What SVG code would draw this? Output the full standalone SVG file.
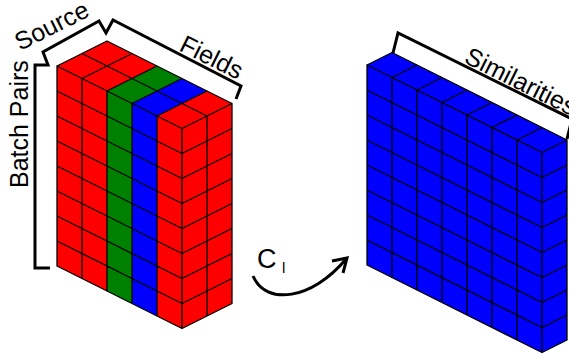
<svg xmlns="http://www.w3.org/2000/svg" width="569" height="356" viewBox="0 0 569 356">
<style>
.r{fill:#ff0000}.g{fill:#008000}.b{fill:#0000ff}
.grid{fill:none;stroke:#000;stroke-width:1.3;stroke-linejoin:round;stroke-linecap:round}
.br{fill:none;stroke:#000;stroke-width:3;stroke-linejoin:miter;stroke-linecap:butt}
.t{font-family:"Liberation Sans",Arial,sans-serif;font-size:25px;fill:#000}
.c{font-family:"Liberation Sans",Arial,sans-serif;fill:#000}
</style>
<rect width="569" height="356" fill="#fff"/>
<g id="source-tensor">
<polygon class="r" points="57,66 82,78.5 82,278.5 57,266"/>
<polygon class="r" points="82,78.5 107,91 107,291 82,278.5"/>
<polygon class="g" points="107,91 132,103.5 132,303.5 107,291"/>
<polygon class="b" points="132,103.5 157,116 157,316 132,303.5"/>
<polygon class="r" points="157,116 182,128.5 182,328.5 157,316"/>
<polygon class="r" points="57,66 82,78.5 132,53.5 107,41"/>
<polygon class="r" points="82,78.5 107,91 157,66 132,53.5"/>
<polygon class="g" points="107,91 132,103.5 182,78.5 157,66"/>
<polygon class="b" points="132,103.5 157,116 207,91 182,78.5"/>
<polygon class="r" points="157,116 182,128.5 232,103.5 207,91"/>
<polygon class="r" points="182,128.5 232,103.5 232,303.5 182,328.5"/>
<path class="grid" d="M57,66V266M82,78.5V278.5M107,91V291M132,103.5V303.5M157,116V316M182,128.5V328.5
M57,66L182,128.5M57,91L182,153.5M57,116L182,178.5M57,141L182,203.5M57,166L182,228.5M57,191L182,253.5M57,216L182,278.5M57,241L182,303.5M57,266L182,328.5
M82,53.5L207,116M107,41L232,103.5
M57,66L107,41M82,78.5L132,53.5M107,91L157,66M132,103.5L182,78.5M157,116L207,91M182,128.5L232,103.5
M207,116V316M232,103.5V303.5
M182,153.5L232,128.5M182,178.5L232,153.5M182,203.5L232,178.5M182,228.5L232,203.5M182,253.5L232,228.5M182,278.5L232,253.5M182,303.5L232,278.5M182,328.5L232,303.5"/>
<path class="br" d="M50,268H35V65H48L43,52L99,21L106,33L113,20L241,86L236,99"/>
<text class="t" transform="translate(28,188) rotate(-90)">Batch Pairs</text>
<text class="t" transform="translate(20,51) rotate(-26.57)">Source</text>
<text class="t" transform="translate(178,50) rotate(26.57)">Fields</text>
</g>
<g id="similarities-tensor">
<polygon class="b" points="367,65 542,152.5 542,352.5 367,265"/>
<polygon class="b" points="367,65 542,152.5 567,140 392,52.5"/>
<polygon class="b" points="542,152.5 567,140 567,340 542,352.5"/>
<path class="grid" d="M367,65V265M392,77.5V277.5M417,90V290M442,102.5V302.5M467,115V315M492,127.5V327.5M517,140V340M542,152.5V352.5
M367,65L542,152.5M367,90L542,177.5M367,115L542,202.5M367,140L542,227.5M367,165L542,252.5M367,190L542,277.5M367,215L542,302.5M367,240L542,327.5M367,265L542,352.5
M392,52.5L567,140
M367,65l25,-12.5M392,77.5l25,-12.5M417,90l25,-12.5M442,102.5l25,-12.5M467,115l25,-12.5M492,127.5l25,-12.5M517,140l25,-12.5M542,152.5l25,-12.5
M567,140V340
M542,177.5l25,-12.5M542,202.5l25,-12.5M542,227.5l25,-12.5M542,252.5l25,-12.5M542,277.5l25,-12.5M542,302.5l25,-12.5M542,327.5l25,-12.5M542,352.5l25,-12.5"/>
<path class="br" d="M393,53L398,33L572,119L567,139"/>
<text class="t" transform="translate(463,62) rotate(26.57)">Similarities</text>
</g>
<g id="connectors">
<path class="br" d="M253,276C266,306 312,300 346,259"/>
<path class="br" d="M332,261L347,258L343,273"/>
<text class="c" x="257" y="268" font-size="27">C</text>
<text class="c" x="282" y="273" font-size="15">l</text>
</g>
</svg>
